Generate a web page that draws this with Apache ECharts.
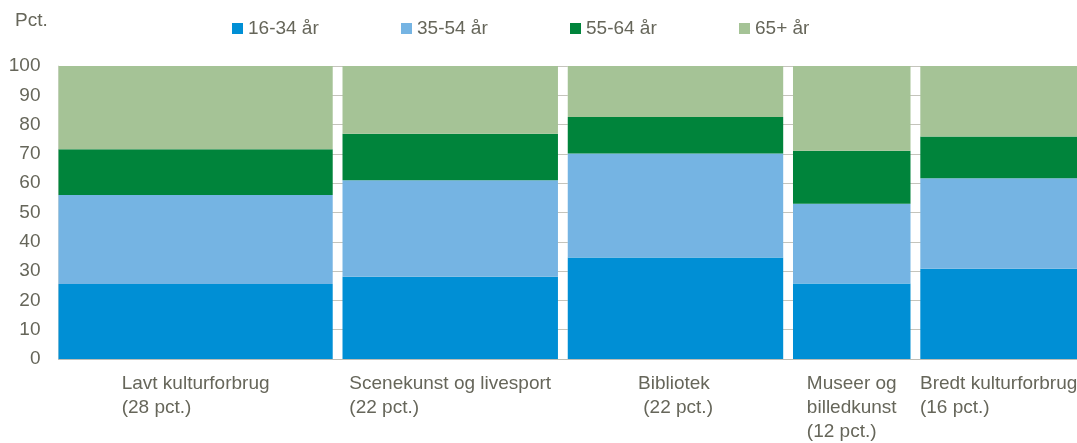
<!DOCTYPE html>
<html>
<head>
<meta charset="utf-8">
<script src="https://cdn.jsdelivr.net/npm/echarts@6/dist/echarts.min.js"></script>
<style>
  html, body { margin: 0; padding: 0; background: #fff; }
  #chart { width: 1077px; height: 443px; }
</style>
</head>
<body>
<div id="chart"></div>
<script>
// categories and their share of the population (bar widths)
const categories = [
  "Lavt kulturforbrug\n(28 pct.)",
  "Scenekunst og livesport\n(22 pct.)",
  "Bibliotek\n (22 pct.)",
  "Museer og\nbilledkunst\n(12 pct.)",
  "Bredt kulturforbrug\n(16 pct.)",
];
const shares = [28, 22, 22, 12, 16];

const ageGroups = ["16-34 år", "35-54 år", "55-64 år", "65+ år"];
const age1634 = [25.6, 28.1, 34.6, 25.8, 30.8];
const age3554 = [30.4, 32.9, 35.5, 27.2, 30.9];
const age5564 = [15.6, 15.9, 12.5, 18.1, 14.2];
const age65 = [28.4, 23.1, 17.4, 28.9, 24.1];
const ageValues = [age1634, age3554, age5564, age65];

const colors = ["#008fd5", "#75b4e3", "#00843b", "#a5c396"];
const textColor = "#66665a";
const fontFamily = "'Liberation Sans', Arial, sans-serif";
const fontSize = 19;
const gap = 1; // white space between columns, in axis units

// start position of each column on the x axis
const starts = [];
let acc = 0;
shares.forEach((s) => {
  starts.push(acc);
  acc += s + gap;
});
const xMax = acc - gap;

const measureCtx = document.createElement("canvas").getContext("2d");
measureCtx.font = fontSize + "px " + fontFamily;
function blockWidth(text) {
  return Math.max(...text.split("\n").map((t) => measureCtx.measureText(t).width));
}

function barSeries(name, idx) {
  return {
    name: name,
    type: "custom",
    itemStyle: { color: colors[idx] },
    renderItem: function (params, api) {
      const x0 = api.value(0);
      const w = api.value(1);
      const base = api.value(2);
      const v = api.value(3);
      const p0 = api.coord([x0, base]);
      const p1 = api.coord([x0 + w, base + v]);
      return {
        type: "rect",
        shape: { x: p0[0], y: p1[1], width: p1[0] - p0[0], height: p0[1] - p1[1] },
        style: { fill: colors[idx] },
      };
    },
    data: shares.map((s, i) => {
      let base = 0;
      for (let k = 0; k < idx; k++) base += ageValues[k][i];
      return [starts[i], s, base, ageValues[idx][i]];
    }),
    z: 2,
  };
}

const labelSeries = {
  type: "custom",
  silent: true,
  renderItem: function (params, api) {
    const i = params.dataIndex;
    const mid = api.value(0) + api.value(1) / 2;
    const p = api.coord([mid, 0]);
    const text = categories[i];
    return {
      type: "text",
      x: p[0] - blockWidth(text) / 2,
      y: p[1] + 13,
      style: {
        text: text,
        fill: textColor,
        font: fontSize + "px " + fontFamily,
        lineHeight: 24,
        align: "left",
        verticalAlign: "top",
      },
    };
  },
  data: shares.map((s, i) => [starts[i], s]),
};

// one legend per age group so items sit on an even pitch
const legendLefts = [227, 396, 565, 734];
const legends = ageGroups.map((g, i) => ({
  data: [g],
  left: legendLefts[i],
  top: 14,
  icon: "rect",
  itemWidth: 11,
  itemHeight: 11,
  itemGap: 0,
  textStyle: { color: textColor, fontSize: fontSize, fontFamily: fontFamily },
}));

const chart = echarts.init(document.getElementById("chart"));
chart.setOption({
  animation: false,
  title: {
    text: "Pct.",
    left: 10,
    top: 6,
    textStyle: { color: textColor, fontSize: fontSize, fontWeight: "normal", fontFamily: fontFamily },
  },
  legend: legends,
  grid: { left: 58.5, right: 0, top: 66, bottom: 84 },
  xAxis: {
    type: "value",
    min: 0,
    max: xMax,
    axisLine: { show: true, onZero: false, lineStyle: { color: "#bdbdb5", width: 1 } },
    axisTick: { show: false },
    axisLabel: { show: false },
    splitLine: { show: false },
  },
  yAxis: {
    type: "value",
    min: 0,
    max: 100,
    interval: 10,
    axisLine: { show: true, lineStyle: { color: "#dcdcd6" } },
    axisTick: { show: false },
    axisLabel: { color: textColor, fontSize: fontSize, fontFamily: fontFamily, margin: 18 },
    splitLine: { lineStyle: { color: "#c4c4bc", width: 1 } },
  },
  series: ageGroups.map((g, i) => barSeries(g, i)).concat([labelSeries]),
});
</script>
</body>
</html>
